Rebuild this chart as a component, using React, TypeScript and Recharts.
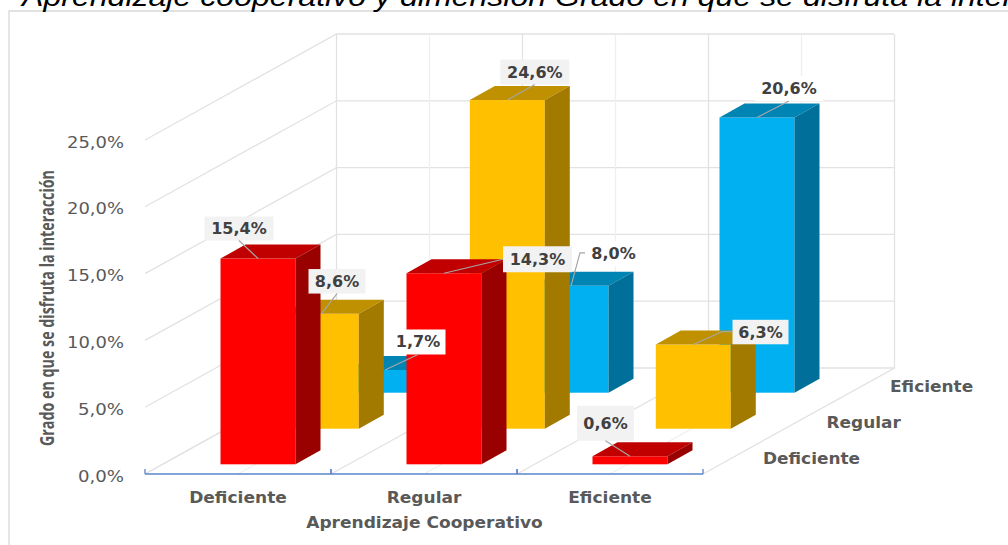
import { BarChart, Bar, XAxis, YAxis, CartesianGrid } from "recharts";

const CATEGORIES = ["Deficiente", "Regular", "Eficiente"];
const RED_VALUES = [15.4, 14.3, 0.6];
const AMBER_VALUES = [8.6, 24.6, 6.3];
const BLUE_VALUES = [1.7, 8.0, 20.6];
const Y_TICKS = [0, 5, 10, 15, 20, 25];
const DEPTH_LABELS = ["Deficiente", "Regular", "Eficiente"];

const chartData = CATEGORIES.map((name, i) => ({
  name,
  red: RED_VALUES[i],
  amber: AMBER_VALUES[i],
  blue: BLUE_VALUES[i],
}));

const GRAY = "#595959";
const WALL = "#E2E2E2";
const WALL_MINOR = "#EFEFEF";
const FONT = "'DejaVu Sans', sans-serif";
const BAR_W = 75;
const PLOT_LEFT = 145;
const PLOT_RIGHT = 703;
const DEPTH_X = 191.5; // floor depth, front edge to back wall
const DEPTH_Y = -106;
const BACK_W = 557.5;
const BAND = 186;

// how each row sits on the 3D floor
const ROWS = {
  red: { dx: 19.5, dy: -9.7, front: "#FF0000", top: "#C00000", side: "#990000" },
  amber: { dx: 82.8, dy: -45.3, front: "#FFC000", top: "#BF9000", side: "#A37A00" },
  blue: { dx: 146.5, dy: -81.3, front: "#00B0F0", top: "#0084B4", side: "#00709A" },
};

// callout placement relative to the bar's top centre
const CALLOUTS = {
  red: [
    { cx: -19, cy: -30, w: 69, h: 24, bg: "#F2F2F2" },
    { cx: 93.5, cy: -14, w: 69, h: 26, bg: "#F2F2F2" },
    { cx: -24.5, cy: -33, w: 57, h: 35, bg: "#F2F2F2" },
  ],
  amber: [
    { cx: 15.7, cy: -32.5, w: 57, h: 24.5, bg: "#F2F2F2" },
    { cx: 27.5, cy: -28, w: 69, h: 25, bg: "#F2F2F2" },
    { cx: 67.2, cy: -12.5, w: 56, h: 24.5, bg: "#F2F2F2", elbow: [29, 13] },
  ],
  blue: [
    { cx: 33, cy: -28, w: 55, h: 25, bg: "#FFFFFF" },
    { cx: 42.5, cy: -32, w: 57, h: 25, bg: "#FFFFFF", elbow: [9, 33] },
    { cx: 32, cy: -29, w: 68, h: 25, bg: "#FFFFFF" },
  ],
};

const fmtPct = (v: number) => v.toFixed(1).replace(".", ",") + "%";

const boxShape = (row: keyof typeof ROWS) => (props: any) => {
  const { x, y, width, height } = props;
  const r = ROWS[row];
  const fx = x + r.dx;
  const fy = y + r.dy;
  const sx = 25;
  const sy = -14;
  const bottom = fy + height;
  return (
    <g>
      <rect x={fx} y={fy} width={width} height={height} fill={r.front} />
      <path d={`M${fx} ${fy}l${sx} ${sy}h${width}l${-sx} ${-sy}z`} fill={r.top} />
      <path
        d={`M${fx + width} ${fy}l${sx} ${sy}V${bottom + sy}l${-sx} ${-sy}z`}
        fill={r.side}
      />
    </g>
  );
};

const calloutShape = (row: keyof typeof ROWS, values: number[]) => (props: any) => {
  const { x, y, width, index } = props;
  const r = ROWS[row];
  const c = CALLOUTS[row][index];
  const tx = x + r.dx + width / 2;
  const ty = y + r.dy;
  const bx = tx + c.cx;
  const by = ty + c.cy;
  // leader runs from the nearest box edge to the bar top
  let leader = `M${bx} ${by + c.h / 2}L${tx} ${ty}`;
  if (c.elbow) {
    leader = `M${tx} ${ty}L${tx + c.elbow[0]} ${ty - c.elbow[1]}H${bx - c.w / 2}`;
  } else if (Math.abs(c.cx) > c.w / 2 + 2 && Math.abs(c.cy) < 20) {
    leader = `M${bx - (c.w / 2) * Math.sign(c.cx)} ${by}L${tx} ${ty}`;
  }
  return (
    <g>
      <rect x={bx - c.w / 2} y={by - c.h / 2} width={c.w} height={c.h} fill={c.bg} />
      <path d={leader} fill="none" stroke="#A6A6A6" strokeWidth={1.2} />
      <text
        x={bx}
        y={by + 5.5}
        textAnchor="middle"
        fontFamily={FONT}
        fontWeight="bold"
        fontSize={16}
        fill="#404040"
      >
        {fmtPct(values[index])}
      </text>
    </g>
  );
};

const wallHorizontal = (props: any) => {
  const { x1, y1 } = props;
  const bx = x1 + DEPTH_X;
  const by = y1 + DEPTH_Y;
  return (
    <path
      key={y1}
      d={`M${x1} ${y1}L${bx} ${by}H${bx + BACK_W}`}
      fill="none"
      stroke={WALL}
      strokeWidth={1.3}
    />
  );
};

const wallVertical = (props: any) => {
  const { x1, y2 } = props;
  const floorY = y2;
  const backBottom = floorY + DEPTH_Y;
  const backTop = backBottom - 334;
  const wallLine = (px: number, stroke: string, key: string) => (
    <path
      key={key}
      d={`M${px} ${floorY}L${px + DEPTH_X} ${backBottom}V${backTop}`}
      fill="none"
      stroke={stroke}
      strokeWidth={1.3}
    />
  );
  // the grid hands us the plot edges as well as the band centres
  if (x1 <= PLOT_LEFT + 1 || x1 >= PLOT_RIGHT - 1) {
    return <g key={x1}>{wallLine(x1, WALL, "edge")}</g>;
  }
  return (
    <g key={x1}>
      {wallLine(x1, WALL_MINOR, "minor")}
      {x1 + BAND / 2 < PLOT_RIGHT - 1 ? wallLine(x1 + BAND / 2, WALL, "major") : null}
    </g>
  );
};

const YTick = (props: any) => {
  const { y, payload } = props;
  return (
    <text
      x={124}
      y={y + 7.5}
      textAnchor="end"
      fontFamily={FONT}
      fontSize={16.5}
      fill={GRAY}
      textLength={payload.value >= 10 ? 57 : 46}
      lengthAdjust="spacingAndGlyphs"
    >
      {fmtPct(payload.value)}
    </text>
  );
};

const XTick = (props: any) => {
  const { x, payload } = props;
  return (
    <g>
      <path
        d={`M${x - BAND / 2} 474v-5M${x + BAND / 2} 474v-5`}
        stroke="#5B84C8"
        strokeWidth={1.3}
      />
      <text
        transform={`translate(${x},502.5) scale(1.1,1)`}
        textAnchor="middle"
        fontFamily={FONT}
        fontWeight="bold"
        fontSize={15.5}
        fill={GRAY}
      >
        {payload.value}
      </text>
    </g>
  );
};

export default function App() {
  return (
    <div style={{ position: "absolute", left: 0, top: 0, width: 1008, height: 545, background: "#fff", overflow: "hidden" }}>
      <BarChart
        width={1008}
        height={545}
        data={chartData}
        margin={{ top: 140, right: 305, bottom: 0, left: 0 }}
        barSize={BAR_W}
        barGap={-BAR_W}
      >
        <path d="M1008 11H9V545" fill="none" stroke="#D9D9D9" strokeWidth={1.3} />
        <text
          x={22}
          y={6}
          fontFamily="'Liberation Sans', Arial, sans-serif"
          fontStyle="italic"
          fontSize={28}
          fill="#000"
          textLength={1084}
          lengthAdjust="spacingAndGlyphs"
        >
          Aprendizaje cooperativo y dimensión Grado en que se disfruta la interacción
        </text>
        <CartesianGrid horizontal={wallHorizontal} vertical={wallVertical} />
        <XAxis
          dataKey="name"
          height={71}
          tickLine={false}
          axisLine={{ stroke: "#5B84C8", strokeWidth: 1.3 }}
          tick={XTick}
        />
        <YAxis
          width={145}
          domain={[0, 25]}
          ticks={Y_TICKS}
          tickLine={false}
          axisLine={false}
          tick={YTick}
        />
        <Bar dataKey="blue" isAnimationActive={false} shape={boxShape("blue")} />
        <Bar dataKey="amber" isAnimationActive={false} shape={boxShape("amber")} />
        <Bar dataKey="red" isAnimationActive={false} shape={boxShape("red")} />
        <Bar dataKey="blue" isAnimationActive={false} shape={calloutShape("blue", BLUE_VALUES)} />
        <Bar dataKey="amber" isAnimationActive={false} shape={calloutShape("amber", AMBER_VALUES)} />
        <Bar dataKey="red" isAnimationActive={false} shape={calloutShape("red", RED_VALUES)} />
        <text
          transform="translate(54,308) rotate(-90)"
          textAnchor="middle"
          fontFamily="'Liberation Sans Narrow', 'Open Sans', sans-serif"
          fontWeight="bold"
          fontSize={20}
          fill={GRAY}
          textLength={276}
          lengthAdjust="spacingAndGlyphs"
        >
          Grado en que se disfruta la interacción
        </text>
        <text
          transform="translate(424.5,528) scale(1.1,1)"
          textAnchor="middle"
          fontFamily={FONT}
          fontWeight="bold"
          fontSize={15.5}
          fill={GRAY}
        >
          Aprendizaje Cooperativo
        </text>
        {DEPTH_LABELS.map((name, i) => (
          <text
            key={name}
            transform={`translate(${763 + 63.5 * i},${464 - 36 * i}) scale(1.06,1)`}
            fontFamily={FONT}
            fontWeight="bold"
            fontSize={16}
            fill={GRAY}
          >
            {name}
          </text>
        ))}
      </BarChart>
    </div>
  );
}
